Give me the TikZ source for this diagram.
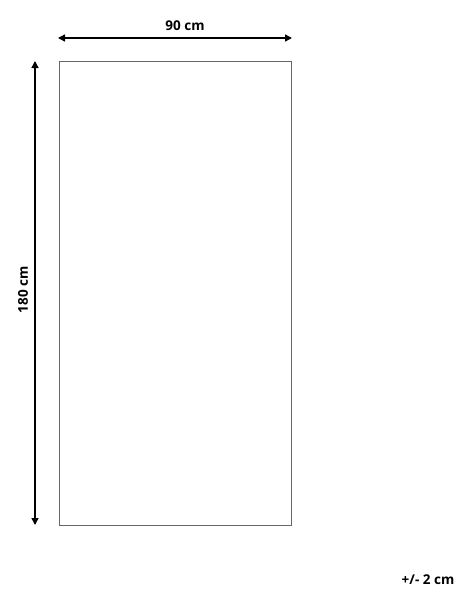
\documentclass[tikz,border=0pt]{standalone}
\usepackage{fontspec}
\setmainfont{Open Sans}
\usetikzlibrary{arrows.meta}
\begin{document}
\begin{tikzpicture}[x=1pt,y=-1pt,
  dimline/.style={line width=1.4pt,{Triangle[length=7pt,width=7pt]}-{Triangle[length=7pt,width=7pt]}},
  lbl/.style={font=\fontsize{13.5}{15}\selectfont\bfseries,inner sep=0pt}]
\useasboundingbox (0,0) rectangle (467,600);
\node[draw=gray!80!black,line width=0.9pt,minimum width=232pt,minimum height=464pt,inner sep=0pt,anchor=north west] (rug) at (59,61) {};
\coordinate (hl) at (58,38);
\coordinate (hr) at (292,38);
\coordinate (vt) at (35,61);
\coordinate (vb) at (35,525);
\draw[dimline] (hl) -- (hr);
\draw[dimline] (vt) -- (vb);
\node[lbl] (w) at (185,26) {90 cm};
\node[lbl,rotate=90] (h) at (23,290) {180 cm};
\node[lbl] (tol) at (428,580) {+/- 2 cm};
\end{tikzpicture}
\end{document}
